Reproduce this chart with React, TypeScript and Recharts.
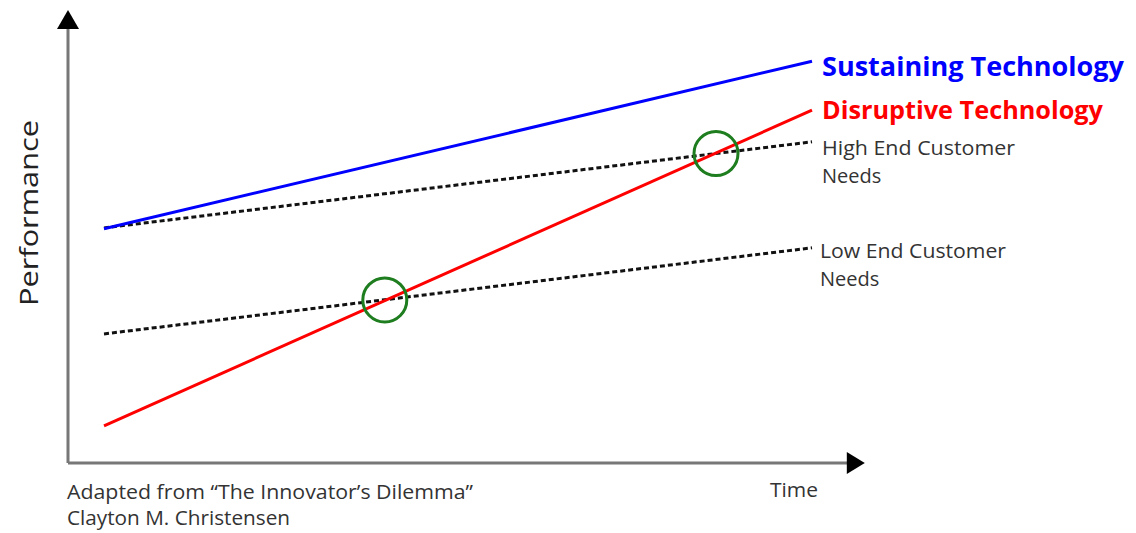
import React from 'react'
import { LineChart, Line, XAxis, YAxis, ReferenceLine, ReferenceDot } from 'recharts'

// time positions where each trend is drawn
const times = [4.5, 93]
const sustaining = [51.7, 88.7]
const disruptive = [8.2, 77.9]
const highEndNeeds = [51.9, 70.9]
const lowEndNeeds = [28.5, 47.5]

// where disruptive technology overtakes customer needs
const crossings = [
  { t: 39.6, perf: 36.0 },
  { t: 81.0, perf: 68.3 },
]

const axisEnd = { x: 97.5, y: 96 }
const arrowTip = { x: 99.6, y: 100 }

const data = times.map((t, i) => ({
  t,
  sustaining: sustaining[i],
  disruptive: disruptive[i],
  high: highEndNeeds[i],
  low: lowEndNeeds[i],
}))

const FONT = '"Open Sans", "DejaVu Sans", sans-serif'

const ArrowUp = ({ cx, cy }: any) => (
  <polygon points={`${cx},${cy} ${cx - 11},${cy + 19} ${cx + 11},${cy + 19}`} fill="#000" />
)
const ArrowRight = ({ cx, cy }: any) => (
  <polygon points={`${cx},${cy} ${cx - 18},${cy - 11} ${cx - 18},${cy + 11}`} fill="#000" />
)
const Ring = ({ cx, cy }: any) => (
  <circle cx={cx} cy={cy} r={22} fill="none" stroke="#1e7d1e" strokeWidth={3} />
)

export default function App() {
  return (
    <div style={{ position: 'absolute', left: 0, top: 0, width: 1136, height: 533, background: '#fff' }}>
      <LineChart width={1136} height={533} data={data} margin={{ top: 10, right: 268, bottom: 70, left: 68 }}>
        <XAxis type="number" dataKey="t" domain={[0, 100]} hide />
        <YAxis type="number" domain={[0, 100]} hide />

        {/* axes with arrow heads */}
        <ReferenceLine segment={[{ x: 0, y: 0 }, { x: axisEnd.x, y: 0 }]} stroke="#777" strokeWidth={3} ifOverflow="visible" />
        <ReferenceLine segment={[{ x: 0, y: 0 }, { x: 0, y: axisEnd.y }]} stroke="#777" strokeWidth={3} ifOverflow="visible" />
        <ReferenceDot x={0} y={arrowTip.y} shape={ArrowUp} ifOverflow="visible" />
        <ReferenceDot x={arrowTip.x} y={0} shape={ArrowRight} ifOverflow="visible" />

        <Line dataKey="high" stroke="#111" strokeWidth={3} strokeDasharray="5 3" dot={false} isAnimationActive={false} />
        <Line dataKey="low" stroke="#111" strokeWidth={3} strokeDasharray="5 3" dot={false} isAnimationActive={false} />
        <Line dataKey="sustaining" stroke="#0000ff" strokeWidth={3} dot={false} isAnimationActive={false} />
        <Line dataKey="disruptive" stroke="#ff0000" strokeWidth={3} dot={false} isAnimationActive={false} />

        {crossings.map((c) => (
          <ReferenceDot key={c.t} x={c.t} y={c.perf} shape={Ring} ifOverflow="visible" />
        ))}

        <text x={822} y={76} fill="#0000ff" fontFamily={FONT} fontWeight={700} fontSize={27} textLength={302} lengthAdjust="spacingAndGlyphs">Sustaining Technology</text>
        <text x={822} y={119} fill="#ff0000" fontFamily={FONT} fontWeight={700} fontSize={25} textLength={281} lengthAdjust="spacingAndGlyphs">Disruptive Technology</text>

        <g fill="#333" fontFamily={FONT} fontSize={20}>
          <text x={822} y={155} textLength={193} lengthAdjust="spacingAndGlyphs">High End Customer</text>
          <text x={822} y={183}>Needs</text>
          <text x={820} y={258} textLength={186} lengthAdjust="spacingAndGlyphs">Low End Customer</text>
          <text x={820} y={286}>Needs</text>
          <text x={770} y={497} textLength={48} lengthAdjust="spacingAndGlyphs">Time</text>
          <text x={67} y={499} textLength={406} lengthAdjust="spacingAndGlyphs">Adapted from “The Innovator’s Dilemma”</text>
          <text x={67} y={525} textLength={223} lengthAdjust="spacingAndGlyphs">Clayton M. Christensen</text>
        </g>

        <text x={38} y={213} transform="rotate(-90 38 213)" textAnchor="middle" fill="#222" fontFamily={FONT} fontSize={26} textLength={186} lengthAdjust="spacingAndGlyphs">Performance</text>
      </LineChart>
    </div>
  )
}
